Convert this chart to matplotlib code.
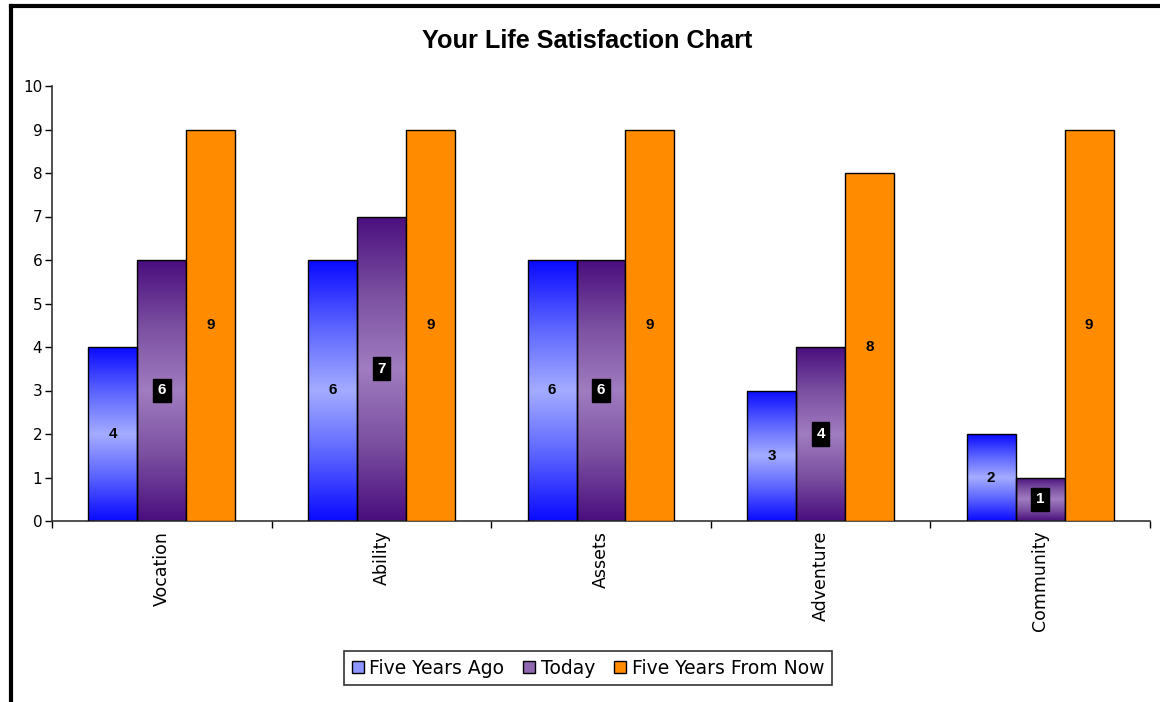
import matplotlib
matplotlib.use("Agg")
import matplotlib.pyplot as plt
import numpy as np
from matplotlib.colors import LinearSegmentedColormap
from matplotlib.patches import Patch
from matplotlib.lines import Line2D

plt.rcParams['font.family'] = ['Liberation Sans', 'DejaVu Sans']

categories = ["Vocation", "Ability", "Assets", "Adventure", "Community"]
series_names = ["Five Years Ago", "Today", "Five Years From Now"]
five_years_ago = [4, 6, 6, 3, 2]
today = [6, 7, 6, 4, 1]
five_years_from_now = [9, 9, 9, 8, 9]
y_ticks = [0, 1, 2, 3, 4, 5, 6, 7, 8, 9, 10]

W, H = 1160, 702
fig = plt.figure(figsize=(W / 100, H / 100), dpi=100)
ax = fig.add_axes([52 / W, 1 - 521 / H, 1098 / W, 435 / H])

n = len(categories)
x = np.arange(n)
bw = 0.223
offsets = [-bw, 0, bw]

blue_cmap = LinearSegmentedColormap.from_list(
    "b", ["#0A0AFF", "#5A62FF", "#A4ACFF", "#5A62FF", "#0A0AFF"])
purple_cmap = LinearSegmentedColormap.from_list(
    "p", ["#4A0E7E", "#7A4FA0", "#A07CC0", "#7A4FA0", "#4A0E7E"])

ax.set_xlim(-0.5, n - 0.5)
ax.set_ylim(0, 10)

grad = np.linspace(0, 1, 256).reshape(-1, 1)

def gradient_bars(vals, off, cmap):
    bars = ax.bar(x + off, vals, bw, facecolor="none", edgecolor="black",
                  linewidth=1.0, zorder=3)
    for b in bars:
        x0, y0 = b.get_x(), b.get_y()
        w, h = b.get_width(), b.get_height()
        im = ax.imshow(grad, cmap=cmap, aspect="auto",
                       extent=[x0, x0 + w, y0, y0 + h], origin="lower",
                       zorder=2, interpolation="bilinear")
        im.set_clip_path(b)
    return bars

gradient_bars(five_years_ago, offsets[0], blue_cmap)
gradient_bars(today, offsets[1], purple_cmap)
ax.bar(x + offsets[2], five_years_from_now, bw, color="#FF8C00",
       edgecolor="black", linewidth=1.0, zorder=3)

ax.set_xlim(-0.5, n - 0.5)
ax.set_ylim(0, 10)

for i in range(n):
    ax.text(x[i] + offsets[0], five_years_ago[i] / 2, str(five_years_ago[i]),
            ha="center", va="center", fontsize=11, fontweight="bold",
            color="black", zorder=5)
    ax.text(x[i] + offsets[1], today[i] / 2, str(today[i]),
            ha="center", va="center", fontsize=11, fontweight="bold",
            color="white", zorder=5,
            bbox=dict(boxstyle="square,pad=0.3", facecolor="black",
                      edgecolor="black"))
    ax.text(x[i] + offsets[2], five_years_from_now[i] / 2,
            str(five_years_from_now[i]),
            ha="center", va="center", fontsize=11, fontweight="bold",
            color="black", zorder=5)

ax.set_yticks(y_ticks)
ax.set_yticklabels([str(t) for t in y_ticks], fontsize=11, family="DejaVu Sans")
ax.set_xticks(x)
ax.set_xticklabels(categories, rotation=90, fontsize=12.5, family="DejaVu Sans")
ax.tick_params(axis="x", length=0, pad=7)
ax.set_xticks(np.arange(-0.5, n + 0.5, 1), minor=True)
ax.tick_params(axis="x", which="minor", length=5, direction="out", width=1)
ax.tick_params(axis="y", length=5, direction="out", width=1, pad=2)

for s in ["top", "right"]:
    ax.spines[s].set_visible(False)
ax.spines["left"].set_linewidth(1.2)
ax.spines["bottom"].set_linewidth(1.2)
ax.spines["left"].set_color("#333333")
ax.spines["bottom"].set_color("#333333")

fig.text(587 / W, 1 - 41 / H, "Your Life Satisfaction Chart",
         ha="center", va="center", fontsize=18.2, fontweight="bold")

handles = [Patch(facecolor="#8E96FF", edgecolor="black", label=series_names[0]),
           Patch(facecolor="#9068B0", edgecolor="black", label=series_names[1]),
           Patch(facecolor="#FF8C00", edgecolor="black", label=series_names[2])]
leg = fig.legend(handles=handles, loc="center", bbox_to_anchor=(588 / W, 1 - 668 / H),
                 ncol=3, frameon=True, fancybox=False,
                 prop={"family": "DejaVu Sans", "size": 13.5},
                 edgecolor="black", handlelength=0.65, handleheight=0.65,
                 handletextpad=0.3, columnspacing=1.0, borderpad=0.4)
leg.get_frame().set_linewidth(1.2)

# outer frame (left and top edges visible)
fig.add_artist(Line2D([11 / W, 11 / W], [0, 1 - 6 / H], color="black",
                      linewidth=3, transform=fig.transFigure))
fig.add_artist(Line2D([11 / W, 1], [1 - 6 / H, 1 - 6 / H], color="black",
                      linewidth=3, transform=fig.transFigure))

fig.savefig("out.png", dpi=100)
